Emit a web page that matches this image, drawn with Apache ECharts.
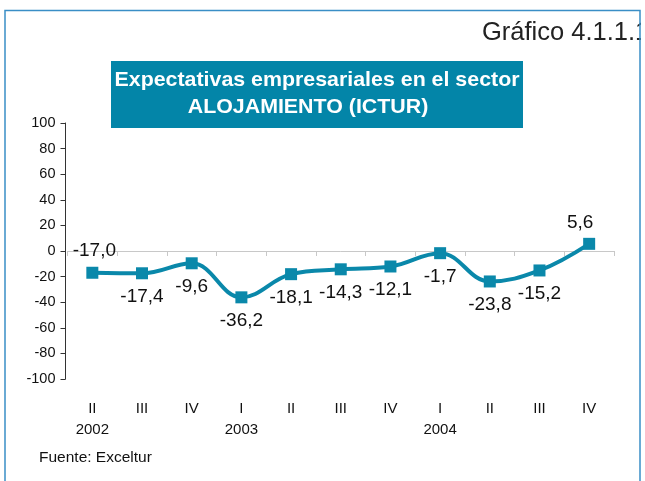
<!DOCTYPE html>
<html>
<head>
<meta charset="utf-8">
<script src="https://cdn.jsdelivr.net/npm/echarts@6/dist/echarts.min.js"></script>
<style>
  html, body { margin: 0; padding: 0; background: #fff; }
  #chart { width: 645px; height: 481px; }
</style>
</head>
<body>
<div id="chart"></div>
<script>
// trimestres y años
var quarters = ['II', 'III', 'IV', 'I', 'II', 'III', 'IV', 'I', 'II', 'III', 'IV'];
var years = ['2002', '', '', '2003', '', '', '', '2004', '', '', ''];
var values = [-17.0, -17.4, -9.6, -36.2, -18.1, -14.3, -12.1, -1.7, -23.8, -15.2, 5.6];
var yTicks = [-100, -80, -60, -40, -20, 0, 20, 40, 60, 80, 100];
var titleLines = ['Expectativas empresariales en el sector', 'ALOJAMIENTO (ICTUR)'];

var chart = echarts.init(document.getElementById('chart'));
var font = 'Liberation Sans, Arial, sans-serif';
var blue = '#0a88aa';

// ancho del titulo: el original es mas ancho, se ajusta con scaleX
var titleFont = 'bold 21px "Liberation Sans", Arial, sans-serif';
var ctx = document.createElement('canvas').getContext('2d');
ctx.font = titleFont;
var titleScale = 405 / ctx.measureText(titleLines[0]).width;

// etiquetas: la primera y la última van encima
var seriesData = values.map(function (v, i) {
  var item = { value: v };
  if (i === 0) {
    item.label = { position: 'top', distance: 6, offset: [2, 0] };
  } else if (i === values.length - 1) {
    item.label = { position: 'top', distance: 6, offset: [-9, 0] };
  }
  return item;
});

chart.setOption({
  animation: false,
  grid: { left: 67.5, right: 31, top: 123, bottom: 102 },
  xAxis: [{
    type: 'category',
    data: quarters,
    boundaryGap: true,
    axisLine: { onZero: true, lineStyle: { color: '#c8c8c8', width: 1 } },
    axisTick: { show: true, length: 5, lineStyle: { color: '#c8c8c8' } },
    axisLabel: { show: false }
  }, {
    type: 'category',
    data: quarters,
    position: 'bottom',
    boundaryGap: true,
    axisLine: { show: false, onZero: false },
    axisTick: { show: false },
    axisLabel: {
      margin: 19,
      interval: 0,
      color: '#111',
      fontFamily: font,
      fontSize: 15,
      lineHeight: 21,
      formatter: function (v, i) { return v + '\n' + (years[i] || ' '); }
    }
  }],
  yAxis: {
    type: 'value',
    min: yTicks[0],
    max: yTicks[yTicks.length - 1],
    interval: 20,
    offset: 2,
    axisLine: { show: true, lineStyle: { color: '#333', width: 1 } },
    axisTick: { show: true, length: 5, lineStyle: { color: '#333' } },
    splitLine: { show: false },
    axisLabel: { color: '#111', fontFamily: font, fontSize: 14.5, margin: 10 }
  },
  series: [{
    type: 'line',
    xAxisIndex: 0,
    data: seriesData,
    smooth: 0.4,
    symbol: 'rect',
    symbolSize: 12,
    lineStyle: { color: blue, width: 4 },
    itemStyle: { color: blue },
    label: {
      show: true,
      position: 'bottom',
      distance: 8,
      color: '#111',
      fontFamily: font,
      fontSize: 19,
      formatter: function (p) { return p.value.toFixed(1).replace('.', ','); }
    }
  }],
  graphic: [{
    type: 'rect',
    shape: { x: 111, y: 61, width: 412, height: 67 },
    style: { fill: '#0385a8' },
    silent: true
  }, {
    type: 'text',
    x: 317, y: 80, scaleX: titleScale,
    style: {
      text: titleLines[0], fill: '#fff', font: titleFont,
      align: 'center', verticalAlign: 'middle'
    }
  }, {
    type: 'text',
    x: 308, y: 107, scaleX: titleScale,
    style: {
      text: titleLines[1], fill: '#fff', font: titleFont,
      align: 'center', verticalAlign: 'middle'
    }
  }, {
    type: 'text',
    x: 482, y: 33,
    style: {
      text: 'Gráfico 4.1.1.1', fill: '#222',
      font: '25.5px "Liberation Sans", Arial, sans-serif',
      align: 'left', verticalAlign: 'middle'
    }
  }, {
    type: 'rect',
    shape: { x: 641, y: 0, width: 10, height: 481 },
    style: { fill: '#fff' },
    silent: true
  }, {
    type: 'rect',
    shape: { x: 5, y: 10.5, width: 635, height: 500 },
    style: { fill: 'none', stroke: '#3a8ec6', lineWidth: 1.5 },
    silent: true
  }, {
    type: 'text',
    x: 39, y: 458,
    style: {
      text: 'Fuente: Exceltur', fill: '#111',
      font: '15.5px "Liberation Sans", Arial, sans-serif',
      align: 'left', verticalAlign: 'middle'
    }
  }]
});
</script>
</body>
</html>
